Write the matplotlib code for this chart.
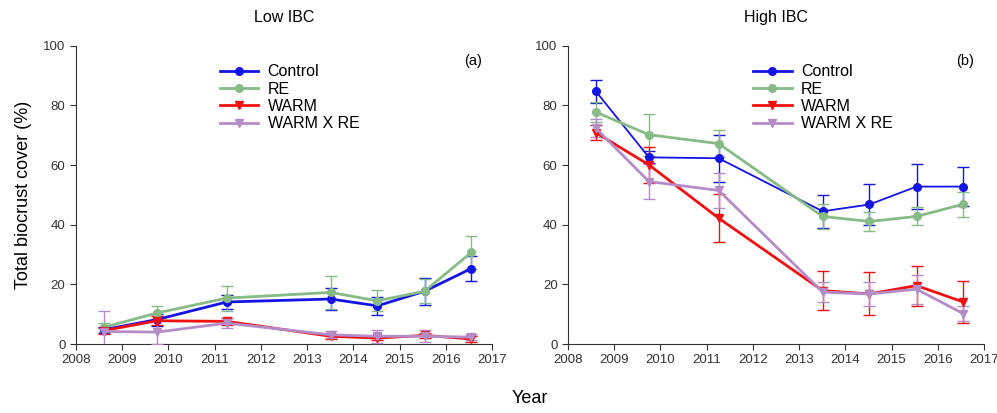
import numpy as np
import matplotlib.pyplot as plt

plt.rcParams['font.family'] = ['Liberation Sans', 'DejaVu Sans']

# sampling dates (decimal year)
years = [2008.6, 2009.75, 2011.26, 2013.51, 2014.52, 2015.54, 2016.55]

# Low IBC (a)
low_control = [4.8, 8.2, 14.1, 15.1, 12.8, 17.7, 25.3]
low_control_err = [1.0, 2.0, 2.2, 3.6, 2.9, 4.6, 4.2]
low_re = [5.6, 10.4, 15.4, 17.3, 14.5, 17.7, 30.7]
low_re_err = [1.5, 2.4, 4.2, 5.4, 3.5, 4.0, 5.6]
low_warm = [4.5, 7.8, 7.6, 2.6, 2.0, 2.9, 1.7]
low_warm_err = [1.0, 1.5, 1.2, 0.8, 0.8, 0.8, 1.0]
low_wre = [4.2, 4.0, 7.0, 3.1, 2.6, 2.6, 2.3]
low_wre_err = [6.8, 4.0, 1.7, 1.2, 2.2, 2.0, 1.0]

# High IBC (b)
high_control = [84.8, 62.6, 62.3, 44.5, 46.8, 52.8, 52.8]
high_control_err = [3.9, 2.0, 7.9, 5.5, 7.0, 7.5, 6.5]
high_re = [77.8, 70.2, 67.2, 42.8, 41.1, 42.8, 46.9]
high_re_err = [3.5, 7.0, 4.6, 4.2, 3.1, 3.0, 4.2]
high_warm = [70.9, 60.1, 42.2, 17.9, 16.8, 19.6, 14.1]
high_warm_err = [2.6, 6.0, 8.0, 6.6, 7.2, 6.7, 7.0]
high_wre = [72.4, 54.5, 51.5, 17.4, 16.8, 18.4, 10.2]
high_wre_err = [3.0, 6.0, 6.0, 3.4, 4.1, 4.9, 2.6]

xticks = list(range(2008, 2018))

c_blue = '#1414e6'
c_green = '#86bb86'
c_red = '#f01010'
c_purple = '#b48cc8'

fig = plt.figure(figsize=(9.97, 4.13), dpi=100)
ax1 = fig.add_axes([0.0762, 0.167, 0.4173, 0.722])
ax2 = fig.add_axes([0.5697, 0.167, 0.4173, 0.722])


def draw(ax, data, label, title, control_lw, leg_x):
    series = [
        ('Control', data[0], data[1], c_blue, 'o', control_lw),
        ('RE', data[2], data[3], c_green, 'o', 2.0),
        ('WARM', data[4], data[5], c_red, 'v', 2.0),
        ('WARM X RE', data[6], data[7], c_purple, 'v', 2.0),
    ]
    handles = []
    for name, y, e, col, m, lw in series:
        ax.errorbar(years, y, yerr=e, color=col, lw=lw, elinewidth=1.0,
                    capsize=4, capthick=1.0, marker=m, markersize=5.5,
                    markeredgecolor=col, zorder=3)
        h, = ax.plot([], [], color=col, lw=2.0, marker=m, markersize=5.5)
        handles.append(h)
    ax.set_xlim(2008, 2017)
    ax.set_ylim(0, 100)
    ax.set_xticks(xticks)
    ax.set_yticks([0, 20, 40, 60, 80, 100])
    ax.tick_params(labelsize=9.5, length=4, direction='out', colors='#333333')
    for s in ['top', 'right']:
        ax.spines[s].set_visible(False)
    for s in ['left', 'bottom']:
        ax.spines[s].set_color('#333333')
    ax.text(0.975, 0.95, label, transform=ax.transAxes, ha='right', va='center', fontsize=10.5)
    ax.set_title(title, fontsize=11.5, pad=17)
    ax.legend(handles, ['Control', 'RE', 'WARM', 'WARM X RE'],
              loc='upper left', bbox_to_anchor=(leg_x, 0.96), frameon=False,
              fontsize=11.5, handlelength=2.4, handletextpad=0.6,
              labelspacing=0.15, borderaxespad=0)


draw(ax1, [low_control, low_control_err, low_re, low_re_err,
           low_warm, low_warm_err, low_wre, low_wre_err], '(a)', 'Low IBC', 2.0, 0.33)
draw(ax2, [high_control, high_control_err, high_re, high_re_err,
           high_warm, high_warm_err, high_wre, high_wre_err], '(b)', 'High IBC', 1.3, 0.43)

ax1.set_ylabel('Total biocrust cover (%)', fontsize=13, labelpad=8)
fig.text(0.531, 0.035, 'Year', ha='center', va='center', fontsize=13)

fig.savefig('out.png', dpi=100)
